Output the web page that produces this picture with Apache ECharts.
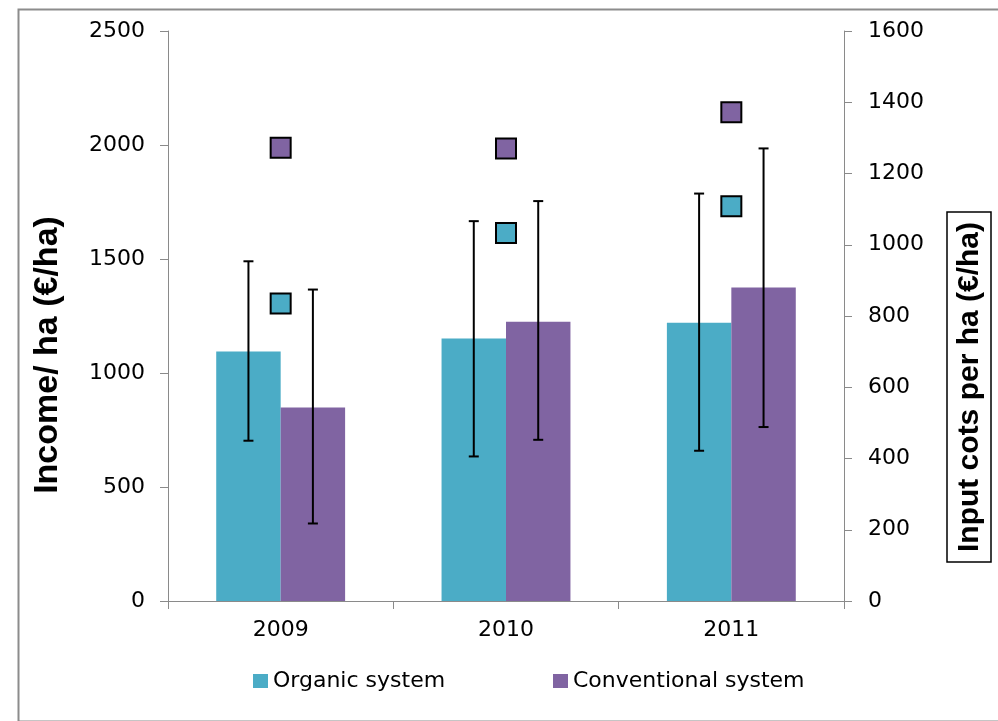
<!DOCTYPE html>
<html>
<head>
<meta charset="utf-8">
<script src="https://cdn.jsdelivr.net/npm/echarts@6/dist/echarts.min.js"></script>
<style>
html,body{margin:0;padding:0;background:#fff;}
#chart{width:998px;height:721px;}
</style>
</head>
<body>
<div id="chart"></div>
<script>
// ---- data ----
var categories = ['2009', '2010', '2011'];
var organicIncome = [1094, 1151, 1220];
var conventionalIncome = [849, 1225, 1375];
var organicLow = [703, 634, 659];
var organicHigh = [1490, 1666, 1787];
var conventionalLow = [340, 707, 763];
var conventionalHigh = [1366, 1754, 1985];
var organicCosts = [835, 1033, 1108];
var conventionalCosts = [1272, 1270, 1372];
var leftTicks = {min: 0, max: 2500, interval: 500};
var rightTicks = {min: 0, max: 1600, interval: 200};
var leftTitle = 'Income/ ha (€/ha)';
var rightTitle = 'Input cots per ha (€/ha)';

var ORG = '#4BACC6', CONV = '#8064A2';
var BAR_FRAC = 0.286;
var tickFont = 'DejaVu Sans';

function errData(low, high) {
  return categories.map(function (c, i) { return [i, low[i], high[i]]; });
}
function errRender(side) {
  return function (params, api) {
    var idx = api.value(0);
    var bw = api.size([1, 0])[0] * BAR_FRAC;
    var top = api.coord([idx, api.value(2)]);
    var bot = api.coord([idx, api.value(1)]);
    var x = top[0] + side * bw / 2;
    var cap = 5;
    var st = {stroke: '#000', lineWidth: 2};
    return {
      type: 'group',
      children: [
        {type: 'line', shape: {x1: x, y1: top[1], x2: x, y2: bot[1]}, style: st},
        {type: 'line', shape: {x1: x - cap, y1: top[1], x2: x + cap, y2: top[1]}, style: st},
        {type: 'line', shape: {x1: x - cap, y1: bot[1], x2: x + cap, y2: bot[1]}, style: st}
      ]
    };
  };
}
function plain(v) { return String(v); }

var chart = echarts.init(document.getElementById('chart'), null, {renderer: 'canvas'});
var axisLineStyle = {color: '#8a8a8a', width: 1};
chart.setOption({
  animation: false,
  backgroundColor: '#fff',
  grid: {left: 168, right: 154, top: 31, bottom: 120, containLabel: false},
  graphic: [{
    type: 'rect', left: 16, top: 7, z: -10,
    shape: {x: 0, y: 0, width: 1020, height: 712},
    style: {fill: 'none', stroke: '#8c8c8c', lineWidth: 2}
  }, {
    type: 'text', x: 48, y: 355, rotation: Math.PI / 2,
    style: {
      text: leftTitle, fontFamily: 'Liberation Sans', fontWeight: 'bold', fontSize: 34,
      fill: '#000', align: 'center', verticalAlign: 'middle'
    }
  }, {
    type: 'rect', x: 947, y: 212,
    shape: {x: 0, y: 0, width: 44, height: 350},
    style: {fill: '#fff', stroke: '#000', lineWidth: 1.5}
  }, {
    type: 'text', x: 970, y: 387, rotation: Math.PI / 2, z: 10,
    style: {
      text: rightTitle, fontFamily: 'Liberation Sans', fontWeight: 'bold', fontSize: 30,
      fill: '#000', align: 'center', verticalAlign: 'middle'
    }
  }],
  legend: [{
    left: 253, top: 670, padding: 0,
    data: ['Organic system'],
    icon: 'rect', itemWidth: 15, itemHeight: 14,
    textStyle: {fontFamily: tickFont, fontSize: 22, color: '#000'}
  }, {
    left: 553, top: 670, padding: 0,
    data: ['Conventional system'],
    icon: 'rect', itemWidth: 15, itemHeight: 14,
    textStyle: {fontFamily: tickFont, fontSize: 22, color: '#000'}
  }],
  xAxis: {
    type: 'category',
    data: categories,
    axisLine: {lineStyle: axisLineStyle},
    axisTick: {show: true, length: 8, lineStyle: axisLineStyle},
    axisLabel: {fontFamily: tickFont, fontSize: 22, color: '#000', margin: 18},
    splitLine: {show: false}
  },
  yAxis: [{
    type: 'value', position: 'left',
    min: leftTicks.min, max: leftTicks.max, interval: leftTicks.interval,
    axisLine: {show: true, lineStyle: axisLineStyle},
    axisTick: {show: true, length: 8, lineStyle: axisLineStyle},
    axisLabel: {fontFamily: tickFont, fontSize: 22, color: '#000', margin: 23, formatter: plain},
    splitLine: {show: false}
  }, {
    type: 'value', position: 'right',
    min: rightTicks.min, max: rightTicks.max, interval: rightTicks.interval,
    axisLine: {show: true, lineStyle: axisLineStyle},
    axisTick: {show: true, length: 8, lineStyle: axisLineStyle},
    axisLabel: {fontFamily: tickFont, fontSize: 22, color: '#000', margin: 24, formatter: plain},
    splitLine: {show: false}
  }],
  series: [{
    name: 'Organic system', type: 'bar', yAxisIndex: 0,
    data: organicIncome, barWidth: (BAR_FRAC * 100) + '%', barGap: '0%',
    itemStyle: {color: ORG}
  }, {
    name: 'Conventional system', type: 'bar', yAxisIndex: 0,
    data: conventionalIncome, barWidth: (BAR_FRAC * 100) + '%', barGap: '0%',
    itemStyle: {color: CONV}
  }, {
    name: 'Organic error', type: 'custom', yAxisIndex: 0, z: 5,
    data: errData(organicLow, organicHigh),
    encode: {x: 0, y: [1, 2]},
    renderItem: errRender(-1)
  }, {
    name: 'Conventional error', type: 'custom', yAxisIndex: 0, z: 5,
    data: errData(conventionalLow, conventionalHigh),
    encode: {x: 0, y: [1, 2]},
    renderItem: errRender(1)
  }, {
    name: 'Organic input costs', type: 'scatter', yAxisIndex: 1, z: 6,
    data: organicCosts, symbol: 'rect', symbolSize: 20,
    itemStyle: {color: ORG, borderColor: '#000', borderWidth: 2, opacity: 1}
  }, {
    name: 'Conventional input costs', type: 'scatter', yAxisIndex: 1, z: 6,
    data: conventionalCosts, symbol: 'rect', symbolSize: 20,
    itemStyle: {color: CONV, borderColor: '#000', borderWidth: 2, opacity: 1}
  }]
});
</script>
</body>
</html>
